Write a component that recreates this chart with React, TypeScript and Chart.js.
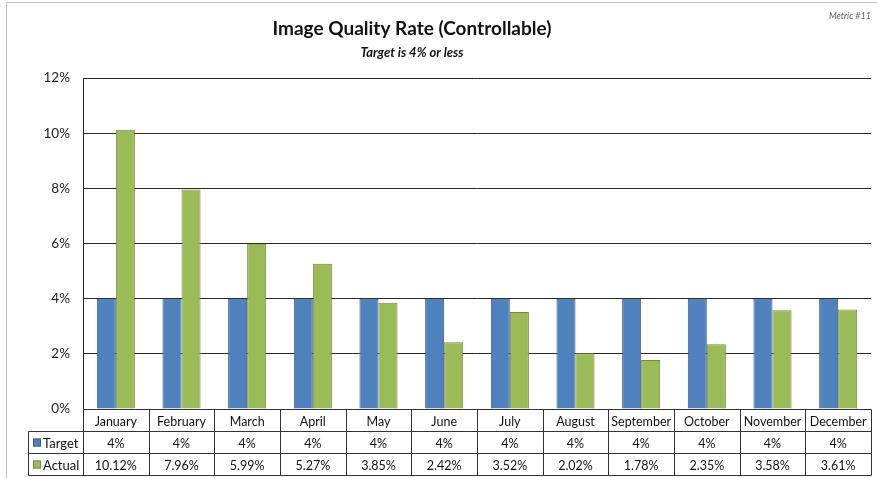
import React, { useEffect, useRef } from "react";
import { Chart, registerables } from "chart.js";

Chart.register(...registerables);

const months = ["January","February","March","April","May","June","July","August","September","October","November","December"];
const targetValues = [4,4,4,4,4,4,4,4,4,4,4,4];
const actualValues = [10.12,7.96,5.99,5.27,3.85,2.42,3.52,2.02,1.78,2.35,3.58,3.61];
const targetLabels = ["4%","4%","4%","4%","4%","4%","4%","4%","4%","4%","4%","4%"];
const actualLabels = ["10.12%","7.96%","5.99%","5.27%","3.85%","2.42%","3.52%","2.02%","1.78%","2.35%","3.58%","3.61%"];
const seriesNames = ["Target","Actual"];
const yTicks = [0,2,4,6,8,10,12];
const titleText = "Image Quality Rate (Controllable)";
const subtitleText = "Target is 4% or less";
const metricText = "Metric #11";

const BLUE = "#4F81BD";
const BLUE_B = "#385D8A";
const GREEN = "#9BBB59";
const GREEN_B = "#71893F";
const FONT = "Lato, 'Open Sans', sans-serif";

const framePlugin = {
  id: "frame",
  beforeDraw(chart: any) {
    const { ctx, width, height } = chart;
    ctx.save();
    ctx.fillStyle = "#fff";
    ctx.fillRect(0, 0, width, height);
    ctx.strokeStyle = "#bdbdbd";
    ctx.lineWidth = 1;
    ctx.beginPath();
    ctx.moveTo(6.5, height);
    ctx.lineTo(6.5, 2.5);
    ctx.lineTo(width, 2.5);
    ctx.stroke();
    ctx.restore();
  },
  afterDraw(chart: any) {
    const { ctx, chartArea } = chart;
    ctx.save();
    ctx.fillStyle = "#111";
    ctx.textAlign = "center";
    ctx.textBaseline = "alphabetic";
    ctx.font = `bold 19px ${FONT}`;
    ctx.fillText(titleText, 412, 35);
    ctx.font = `italic bold 13px ${FONT}`;
    ctx.fillText(subtitleText, 412, 57);
    ctx.font = `italic 9px ${FONT}`;
    ctx.fillStyle = "#666";
    ctx.textAlign = "right";
    ctx.fillText(metricText, chartArea.right, 19);
    ctx.restore();
  },
};

const tablePlugin = {
  id: "dataTable",
  afterDraw(chart: any) {
    const { ctx, chartArea } = chart;
    const x = chart.scales.x;
    const rowH = 22;
    const top = Math.round(chartArea.bottom) + 0.5;
    const left = Math.round(chartArea.left) + 0.5;
    const right = Math.round(chartArea.right) + 0.5;
    const headLeft = 28.5;
    const n = months.length;
    const step = (chartArea.right - chartArea.left) / n;
    ctx.save();
    ctx.strokeStyle = "#333";
    ctx.lineWidth = 1;
    ctx.beginPath();
    ctx.moveTo(left, top); ctx.lineTo(right, top);
    for (let r = 1; r <= 3; r++) {
      const yy = top + r * rowH;
      ctx.moveTo(headLeft, yy); ctx.lineTo(right, yy);
    }
    for (let i = 0; i <= n; i++) {
      const xx = Math.round(x.getPixelForValue(i) - step / 2) + 0.5;
      const px = i === n ? right : i === 0 ? left : xx;
      ctx.moveTo(px, top); ctx.lineTo(px, top + 3 * rowH);
    }
    ctx.moveTo(headLeft, top + rowH); ctx.lineTo(headLeft, top + 3 * rowH);
    ctx.stroke();

    ctx.fillStyle = "#111";
    ctx.textAlign = "center";
    ctx.textBaseline = "middle";
    ctx.font = `12.5px ${FONT}`;
    const rows = [months, targetLabels, actualLabels];
    rows.forEach((row, r) => {
      row.forEach((t, i) => {
        ctx.fillText(t, x.getPixelForValue(i), top + r * rowH + rowH / 2 + 1);
      });
    });
    const colors = [[BLUE, BLUE_B], [GREEN, GREEN_B]];
    seriesNames.forEach((name, k) => {
      const cy = top + (k + 1) * rowH + rowH / 2;
      ctx.fillStyle = colors[k][0];
      ctx.fillRect(33, cy - 4, 8, 8);
      ctx.strokeStyle = colors[k][1];
      ctx.strokeRect(33.5, cy - 3.5, 7, 7);
      ctx.fillStyle = "#111";
      ctx.textAlign = "left";
      ctx.font = `13px ${FONT}`;
      ctx.fillText(name, 43, cy + 1);
    });
    ctx.restore();
  },
};

export default function App() {
  const ref = useRef<HTMLCanvasElement | null>(null);
  useEffect(() => {
    document.body.style.margin = "0";
    const chart = new Chart(ref.current as HTMLCanvasElement, {
      type: "bar",
      data: {
        labels: months,
        datasets: [
          {
            label: seriesNames[0],
            data: targetValues,
            backgroundColor: BLUE,
            borderColor: BLUE_B,
            borderWidth: 1,
            categoryPercentage: 0.58,
            barPercentage: 1,
          },
          {
            label: seriesNames[1],
            data: actualValues,
            backgroundColor: GREEN,
            borderColor: GREEN_B,
            borderWidth: 1,
            categoryPercentage: 0.58,
            barPercentage: 1,
          },
        ],
      },
      options: {
        animation: false,
        responsive: false,
        layout: { padding: { left: 0, right: 6, top: 78, bottom: 69 } },
        plugins: { legend: { display: false }, title: { display: false }, tooltip: { enabled: false } },
        scales: {
          x: {
            display: false,
            grid: { display: false },
          },
          y: {
            min: 0,
            max: 12,
            afterFit: (s: any) => { s.width = 83; },
            afterBuildTicks: (s: any) => { s.ticks = yTicks.map((v) => ({ value: v })); },
            ticks: {
              padding: 13,
              color: "#222",
              font: { family: FONT, size: 13.5 },
              callback: (v: any) => `${v}%`,
            },
            grid: { color: "#2a2a2a", lineWidth: 1, drawTicks: false },
            border: { color: "#2a2a2a", width: 1 },
          },
        },
      },
      plugins: [framePlugin, tablePlugin],
    });
    return () => chart.destroy();
  }, []);
  return (
    <div style={{ position: "fixed", left: 0, top: 0, width: 877, height: 478 }}>
      <canvas ref={ref} width={877} height={478} />
    </div>
  );
}
